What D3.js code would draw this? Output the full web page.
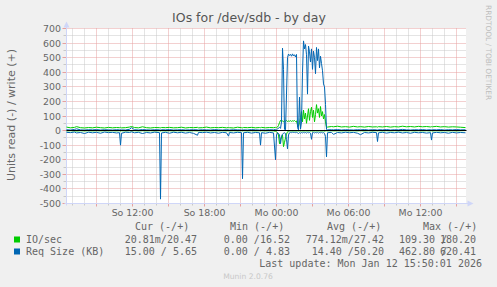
<!DOCTYPE html>
<html>
<head>
<meta charset="utf-8">
<script src="https://cdn.jsdelivr.net/npm/d3@7"></script>
<style>
html, body { margin: 0; padding: 0; background: #f0f0f0; }
svg { display: block; }
</style>
</head>
<body>
<div id="chart"></div>
<script>
/*global d3*/

// sample times ("day HH:MM", Jan 2026) shared by the four series
var times = [
	"11 06:30","11 06:50","11 07:10","11 07:20","11 07:40","11 08:00","11 08:20","11 08:40","11 09:00","11 09:20",
	"11 09:40","11 10:00","11 10:20","11 10:40","11 10:55","11 11:00","11 11:05","11 11:25","11 11:45","11 11:55",
	"11 12:10","11 12:30","11 12:50","11 13:10","11 13:30","11 13:50","11 14:15","11 14:20","11 14:25","11 14:45",
	"11 15:05","11 15:25","11 15:45","11 16:05","11 16:25","11 16:45","11 17:05","11 17:25","11 17:30","11 17:50",
	"11 18:10","11 18:30","11 18:50","11 19:10","11 19:30","11 19:50","11 20:00","11 20:05","11 20:25","11 20:45",
	"11 21:05","11 21:10","11 21:15","11 21:35","11 21:55","11 22:15","11 22:35","11 22:40","11 22:45","11 23:05",
	"11 23:25","11 23:45","11 23:55","12 00:00","12 00:05","12 00:10","12 00:15","12 00:20","12 00:25","12 00:30",
	"12 00:35","12 00:40","12 00:45","12 00:50","12 00:55","12 01:00","12 01:05","12 01:10","12 01:15","12 01:20",
	"12 01:25","12 01:30","12 01:35","12 01:40","12 01:45","12 01:50","12 01:55","12 02:00","12 02:05","12 02:10",
	"12 02:15","12 02:20","12 02:25","12 02:30","12 02:35","12 02:40","12 02:45","12 02:50","12 02:55","12 03:00",
	"12 03:05","12 03:10","12 03:15","12 03:20","12 03:25","12 03:30","12 03:35","12 03:40","12 03:45","12 03:50",
	"12 03:55","12 04:00","12 04:05","12 04:10","12 04:15","12 04:35","12 04:45","12 05:05","12 05:25","12 05:45",
	"12 06:05","12 06:25","12 06:45","12 07:00","12 07:20","12 07:40","12 08:00","12 08:20","12 08:25","12 08:30",
	"12 08:50","12 09:10","12 09:30","12 09:50","12 10:10","12 10:30","12 10:50","12 11:10","12 11:30","12 11:50",
	"12 12:10","12 12:30","12 12:50","12 12:55","12 13:00","12 13:20","12 13:40","12 14:00","12 14:20","12 14:40",
	"12 15:00","12 15:20","12 15:45"
];

// IO/sec write (+)
var ioWrite = [
	24,19,22,27,20,18,21,19,23,20,
	18,22,19,21,20,22,19,20,24,28,
	21,19,26,20,18,21,20,19,21,20,
	22,19,20,23,18,21,20,22,19,20,
	24,19,21,20,22,19,21,20,18,23,
	20,19,21,20,22,19,21,20,22,19,
	21,20,22,20,24,35,55,70,62,66,
	60,68,64,70,62,66,64,68,63,67,
	65,69,62,66,40,30,55,90,130,60,
	140,80,120,50,100,150,70,130,160,90,
	140,60,110,178,120,150,90,165,100,130,
	80,110,60,22,24,28,26,30,25,27,
	24,29,25,27,24,28,25,26,24,27,
	25,28,24,27,25,30,26,28,25,29,
	26,28,25,27,26,29,25,27,24,26,
	25,23,20.47
];

// IO/sec read (-)
var ioRead = [
	2,1,2,3,1,2,1,2,1,2,
	1,2,1,2,1,3,1,2,1,2,
	1,2,1,2,1,2,1,3,1,2,
	1,2,1,2,1,2,1,2,1,2,
	1,2,1,2,1,2,1,2,1,2,
	1,2,1,2,1,2,1,2,1,2,
	1,2,5,8,15,30,90,60,45,30,
	110,80,50,25,8,4,3,2,3,2,
	3,2,3,2,2,3,2,3,2,3,
	2,3,2,3,2,3,2,3,2,3,
	2,3,2,3,2,3,2,3,2,3,
	2,3,2,1,2,1,2,1,2,1,
	2,1,2,1,2,1,2,1,2,1,
	2,1,2,1,2,1,2,1,2,1,
	2,1,2,1,2,1,2,1,2,1,
	2,1,0.02
];

// Req Size (KB) write (+)
var sizeWrite = [
	6,4,8,12,5,4,6,5,7,4,
	6,5,4,6,5,6,5,4,9,20,
	6,4,7,5,4,6,5,4,6,5,
	7,4,5,6,4,5,6,5,4,6,
	5,4,7,5,4,6,5,4,6,5,
	4,6,5,4,7,5,4,6,5,4,
	6,5,8,5,10,18,22,15,60,565,
	420,8,5,250,500,525,515,522,510,526,
	512,520,505,522,20,5,230,10,60,400,
	615,560,590,520,250,580,540,470,560,420,
	545,500,390,570,480,560,430,510,460,410,
	320,300,180,8,5,6,5,7,4,6,
	5,4,6,5,7,4,6,5,4,6,
	5,7,4,6,5,8,5,4,6,5,
	7,4,6,5,6,5,7,4,6,5,
	7,5,5.65
];

// Req Size (KB) read (-)
var sizeRead = [
	12,14,10,16,13,20,11,15,12,18,
	10,14,12,16,14,100,18,11,13,9,
	15,12,20,13,16,11,14,470,16,12,
	18,11,15,12,17,13,19,32,12,14,
	11,16,13,18,12,15,38,13,16,12,
	14,330,15,12,17,13,15,100,14,18,
	12,16,200,30,15,20,30,90,40,25,
	18,15,20,60,125,30,15,12,14,11,
	13,12,14,12,15,20,14,18,13,16,
	12,15,13,17,12,15,13,18,60,14,
	12,16,13,15,12,17,13,15,12,16,
	14,20,40,180,15,12,26,13,16,11,
	15,12,18,28,13,16,12,14,75,15,
	12,17,13,15,11,16,13,18,12,15,
	13,17,14,65,16,12,15,13,18,12,
	16,13,15
];

var yTicks = [700, 600, 500, 400, 300, 200, 100, 0, -100, -200, -300, -400, -500];
var dayNames = ["So", "Mo", "Di", "Mi", "Do", "Fr", "Sa"];

// legend
var seriesNames = ["IO/sec", "Req Size (KB)"];
var seriesColors = ["#00cc00", "#0066b3"];
var curValues = ["20.81m/20.47", "15.00 / 5.65"];
var minValues = ["0.00 /16.52", "0.00 / 4.83"];
var avgValues = ["774.12m/27.42", "14.40 /50.20"];
var maxRead = ["109.30 /", "462.80 /"];
var maxWrite = ["180.20", "620.41"];

function parseTime(s){
	var p = s.split(/[ :]/);
	return new Date(2026, 0, +p[0], +p[1], +p[2]);
}

function drawChart(){
	var width = 497, height = 287;
	var left = 66.5, right = 466.5, top = 28.5, bottom = 203.5;
	var fontSans = "DejaVu Sans";
	var fontMono = "DejaVu Sans Mono";
	var textColor = "#666";
	var gridMinor = "#c8c8c8";
	var gridMajor = "#e6a0a0";
	var axisColor = "#cfd6f8";

	var svg = d3.select("#chart").append("svg")
		.attr("width", width)
		.attr("height", height);

	svg.append("rect").attr("width", width).attr("height", height).style("fill", "#f0f0f0");

	var x = d3.scaleTime()
		.domain([parseTime("11 06:30"), parseTime("12 15:50")])
		.range([left, right]);
	var y = d3.scaleLinear().domain([-500, 700]).range([bottom, top]);

	function crisp(v){ return Math.round(v - 0.5) + 0.5; }

	//white canvas
	svg.append("rect")
		.attr("x", left - 0.5).attr("y", top - 0.5)
		.attr("width", right - left).attr("height", bottom - top)
		.style("fill", "#fff");

	//horizontal grid every 50, red every 100
	var hvals = d3.range(-500, 701, 50);
	var hgrid = svg.append("g").attr("class", "hgrid");
	hgrid.selectAll("line.g").data(hvals).enter().append("line")
		.attr("x1", left).attr("x2", right)
		.attr("y1", function(d){ return crisp(y(d)); })
		.attr("y2", function(d){ return crisp(y(d)); })
		.attr("stroke", function(d){ return d % 100 === 0 ? gridMajor : gridMinor; })
		.attr("stroke-dasharray", "1,1");
	hgrid.selectAll("line.t").data(hvals).enter().append("line")
		.attr("x1", function(d){ return d % 100 === 0 ? left - 4 : left - 3; }).attr("x2", left)
		.attr("y1", function(d){ return crisp(y(d)); })
		.attr("y2", function(d){ return crisp(y(d)); })
		.attr("stroke", function(d){ return d % 100 === 0 ? gridMajor : gridMinor; });

	//vertical grid every hour, red every 3 hours
	var vvals = x.ticks(d3.timeHour.every(1)).filter(function(d){ return x(d) > left + 1; });
	var vgrid = svg.append("g").attr("class", "vgrid");
	vgrid.selectAll("line.g").data(vvals).enter().append("line")
		.attr("x1", function(d){ return crisp(x(d)); })
		.attr("x2", function(d){ return crisp(x(d)); })
		.attr("y1", top).attr("y2", bottom)
		.attr("stroke", function(d){ return d.getHours() % 3 === 0 ? gridMajor : gridMinor; })
		.attr("stroke-dasharray", "1,1");
	vgrid.selectAll("line.t").data(vvals).enter().append("line")
		.attr("x1", function(d){ return crisp(x(d)); })
		.attr("x2", function(d){ return crisp(x(d)); })
		.attr("y1", bottom)
		.attr("y2", function(d){ return d.getHours() % 3 === 0 ? bottom + 3 : bottom + 2; })
		.attr("stroke", function(d){ return d.getHours() % 3 === 0 ? gridMajor : gridMinor; });

	//axes with arrows
	svg.append("line").attr("x1", left).attr("x2", left).attr("y1", bottom + 2).attr("y2", top - 4)
		.attr("stroke", axisColor);
	svg.append("path").attr("d", "M" + (left - 3) + "," + (top - 1) + "L" + left + "," + (top - 7) + "L" + (left + 3) + "," + (top - 1) + "Z")
		.style("fill", axisColor);
	svg.append("line").attr("x1", left - 2).attr("x2", right + 2).attr("y1", bottom).attr("y2", bottom)
		.attr("stroke", axisColor);
	svg.append("path").attr("d", "M" + (right + 1) + "," + (bottom - 3) + "L" + (right + 7) + "," + bottom + "L" + (right + 1) + "," + (bottom + 3) + "Z")
		.style("fill", axisColor);

	//y tick labels
	svg.append("g").selectAll("text").data(yTicks).enter().append("text")
		.attr("x", 61)
		.attr("y", function(d){ return crisp(y(d)); })
		.attr("dy", "0.36em")
		.attr("text-anchor", "end")
		.style("font-family", fontSans).style("font-size", "9.4px").style("fill", textColor)
		.text(function(d){ return d; });

	//x tick labels
	var xlab = x.ticks(d3.timeHour.every(6));
	svg.append("g").selectAll("text").data(xlab).enter().append("text")
		.attr("x", function(d){ return x(d); })
		.attr("y", 216)
		.attr("text-anchor", "middle")
		.style("font-family", fontSans).style("font-size", "9.4px").style("fill", textColor)
		.text(function(d){ return dayNames[d.getDay()] + " " + d3.timeFormat("%H:%M")(d); });

	//data lines
	var dates = times.map(parseTime);
	function drawLine(values, sign, color){
		var line = d3.line()
			.x(function(d, i){ return x(dates[i]); })
			.y(function(d){ return y(sign * d); });
		svg.append("path").datum(values)
			.attr("d", line)
			.attr("fill", "none")
			.attr("stroke", color)
			.attr("stroke-width", 1)
			.attr("stroke-linejoin", "round");
	}
	drawLine(ioRead, -1, seriesColors[0]);
	drawLine(ioWrite, 1, seriesColors[0]);
	drawLine(sizeRead, -1, seriesColors[1]);
	drawLine(sizeWrite, 1, seriesColors[1]);

	//zero line
	svg.append("line").attr("x1", left).attr("x2", right)
		.attr("y1", crisp(y(0))).attr("y2", crisp(y(0)))
		.attr("stroke", "#000");

	//title
	svg.append("text").attr("x", 249).attr("y", 22).attr("text-anchor", "middle")
		.style("font-family", fontSans).style("font-size", "12.5px").style("fill", "#555")
		.text("IOs for /dev/sdb - by day");

	//y label
	svg.append("text")
		.attr("transform", "translate(15,115) rotate(-90)")
		.attr("text-anchor", "middle")
		.style("font-family", fontSans).style("font-size", "11px").style("fill", textColor)
		.text("Units read (-) / write (+)");

	//rrdtool watermark
	svg.append("text")
		.attr("transform", "translate(486,5) rotate(90)")
		.style("font-family", fontSans).style("font-size", "7.4px").style("fill", "#bdbdbd")
		.text("RRDTOOL / TOBI OETIKER");

	//legend
	var lg = svg.append("g").style("font-family", fontMono).style("font-size", "10px").style("fill", textColor);
	var heads = [["Cur (-/+)", 135], ["Min (-/+)", 230], ["Avg (-/+)", 327], ["Max (-/+)", 423]];
	heads.forEach(function(h){
		lg.append("text").attr("x", h[1]).attr("y", 230).style("white-space", "pre").text(h[0]);
	});
	for(var i = 0; i < seriesNames.length; i++){
		var yy = 242.5 + i * 12;
		lg.append("rect").attr("x", 14).attr("y", yy - 6).attr("width", 6).attr("height", 6)
			.style("fill", seriesColors[i]);
		lg.append("text").attr("x", 26).attr("y", yy).text(seriesNames[i]);
		lg.append("text").attr("x", 197).attr("y", yy).attr("text-anchor", "end").style("white-space", "pre").text(curValues[i]);
		lg.append("text").attr("x", 290).attr("y", yy).attr("text-anchor", "end").style("white-space", "pre").text(minValues[i]);
		lg.append("text").attr("x", 384).attr("y", yy).attr("text-anchor", "end").style("white-space", "pre").text(avgValues[i]);
		//read max and write max overlap in the original munin legend
		lg.append("text").attr("x", 399).attr("y", yy).style("white-space", "pre").text(maxRead[i]);
		lg.append("text").attr("x", 476).attr("y", yy).attr("text-anchor", "end").text(maxWrite[i]);
	}
	lg.append("text").attr("x", 482).attr("y", 266.5).attr("text-anchor", "end").style("white-space", "pre")
		.text("Last update: Mon Jan 12 15:50:01 2026");

	svg.append("text").attr("x", 248).attr("y", 279).attr("text-anchor", "middle")
		.style("font-family", fontSans).style("font-size", "7.6px").style("fill", "#c8c8c8")
		.text("Munin 2.0.76");
}

drawChart();
</script>
</body>
</html>
